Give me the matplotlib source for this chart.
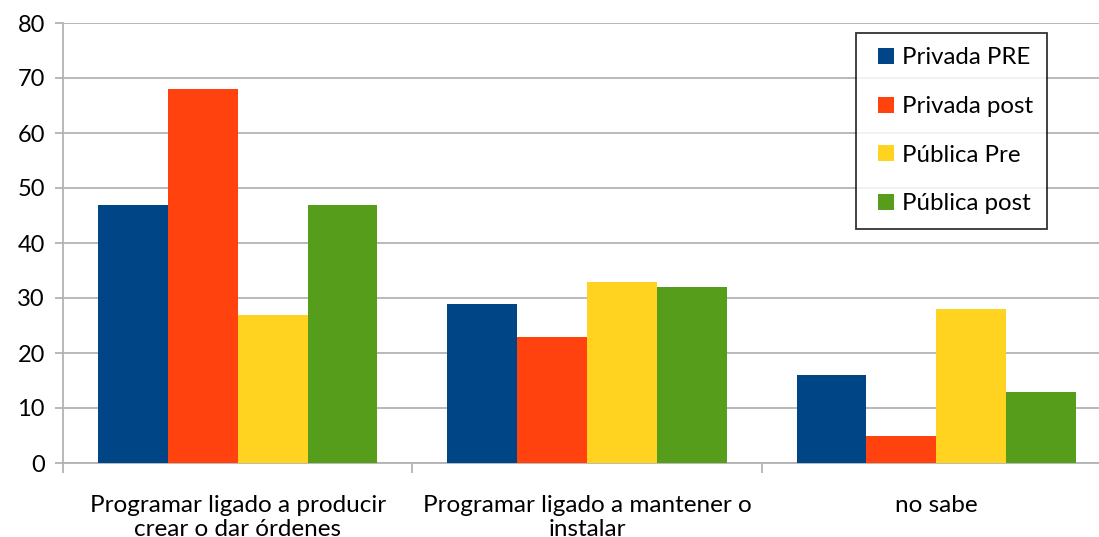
import numpy as np
import matplotlib
matplotlib.use("Agg")
import matplotlib.pyplot as plt
from matplotlib.patches import Patch, Rectangle
from matplotlib.legend_handler import HandlerPatch

plt.rcParams["font.family"] = ["Lato", "DejaVu Sans"]

categories = [
    "Programar ligado a producir\ncrear o dar órdenes",
    "Programar ligado a mantener o\ninstalar",
    "no sabe",
]
series_names = ["Privada PRE", "Privada post", "Pública Pre", "Pública post"]
privada_pre = [47, 29, 16]
privada_post = [68, 23, 5]
publica_pre = [27, 33, 28]
publica_post = [47, 32, 13]
series_values = [privada_pre, privada_post, publica_pre, publica_post]
colors = ["#004586", "#ff420e", "#ffd320", "#579d1c"]
y_ticks = [0, 10, 20, 30, 40, 50, 60, 70, 80]

grid_color = "#b3b3b3"


def square_patch(legend, orig_handle, xdescent, ydescent, width, height, fontsize):
    # square swatch pushed to the right side of the handle box
    side = height
    return Rectangle((width - side - xdescent, -ydescent), side, side)


fig = plt.figure(figsize=(10.99, 5.37), dpi=100)
ax = fig.add_axes([63 / 1099, 74 / 537, 1048 / 1099, 440 / 537])

x = np.arange(len(categories))
bar_w = 0.2
for i, (vals, col) in enumerate(zip(series_values, colors)):
    ax.bar(x + (i - 1.5) * bar_w, vals, width=bar_w, color=col, zorder=3)

ax.set_xlim(-0.5, len(categories) - 0.5)
ax.set_ylim(0, 80)
ax.set_yticks(y_ticks)
ax.yaxis.grid(True, color=grid_color, linewidth=1.3, zorder=0)
ax.tick_params(axis="y", direction="out", length=6, width=1.3, color=grid_color,
               labelsize=17, pad=7)

# boundaries as major ticks, category names as minor ticks
ax.set_xticks(np.arange(len(categories) + 1) - 0.5)
ax.set_xticklabels([])
ax.set_xticks(x, minor=True)
ax.set_xticklabels(categories, minor=True, fontsize=17.5, linespacing=1.2)
ax.tick_params(axis="x", which="major", direction="out", length=7, width=1.3, color=grid_color)
ax.tick_params(axis="x", which="minor", length=0, pad=23)

for s in ["top", "right"]:
    ax.spines[s].set_visible(False)
for s in ["left", "bottom"]:
    ax.spines[s].set_color(grid_color)
    ax.spines[s].set_linewidth(1.3)

handles = [Patch(facecolor=c, edgecolor="none") for c in colors]
leg = ax.legend(handles, series_names, loc="upper left",
                bbox_to_anchor=((856 - 63) / 1048, (463 - 33) / 440),
                fontsize=17.3, frameon=True, fancybox=False,
                handlelength=1.0, handleheight=0.65, handletextpad=0.3,
                labelspacing=1.15, borderpad=0.6, borderaxespad=0,
                handler_map={Patch: HandlerPatch(patch_func=square_patch)})
leg.get_frame().set_edgecolor("black")
leg.get_frame().set_linewidth(1.3)
leg.set_zorder(5)

fig.savefig("out.png", dpi=100)
